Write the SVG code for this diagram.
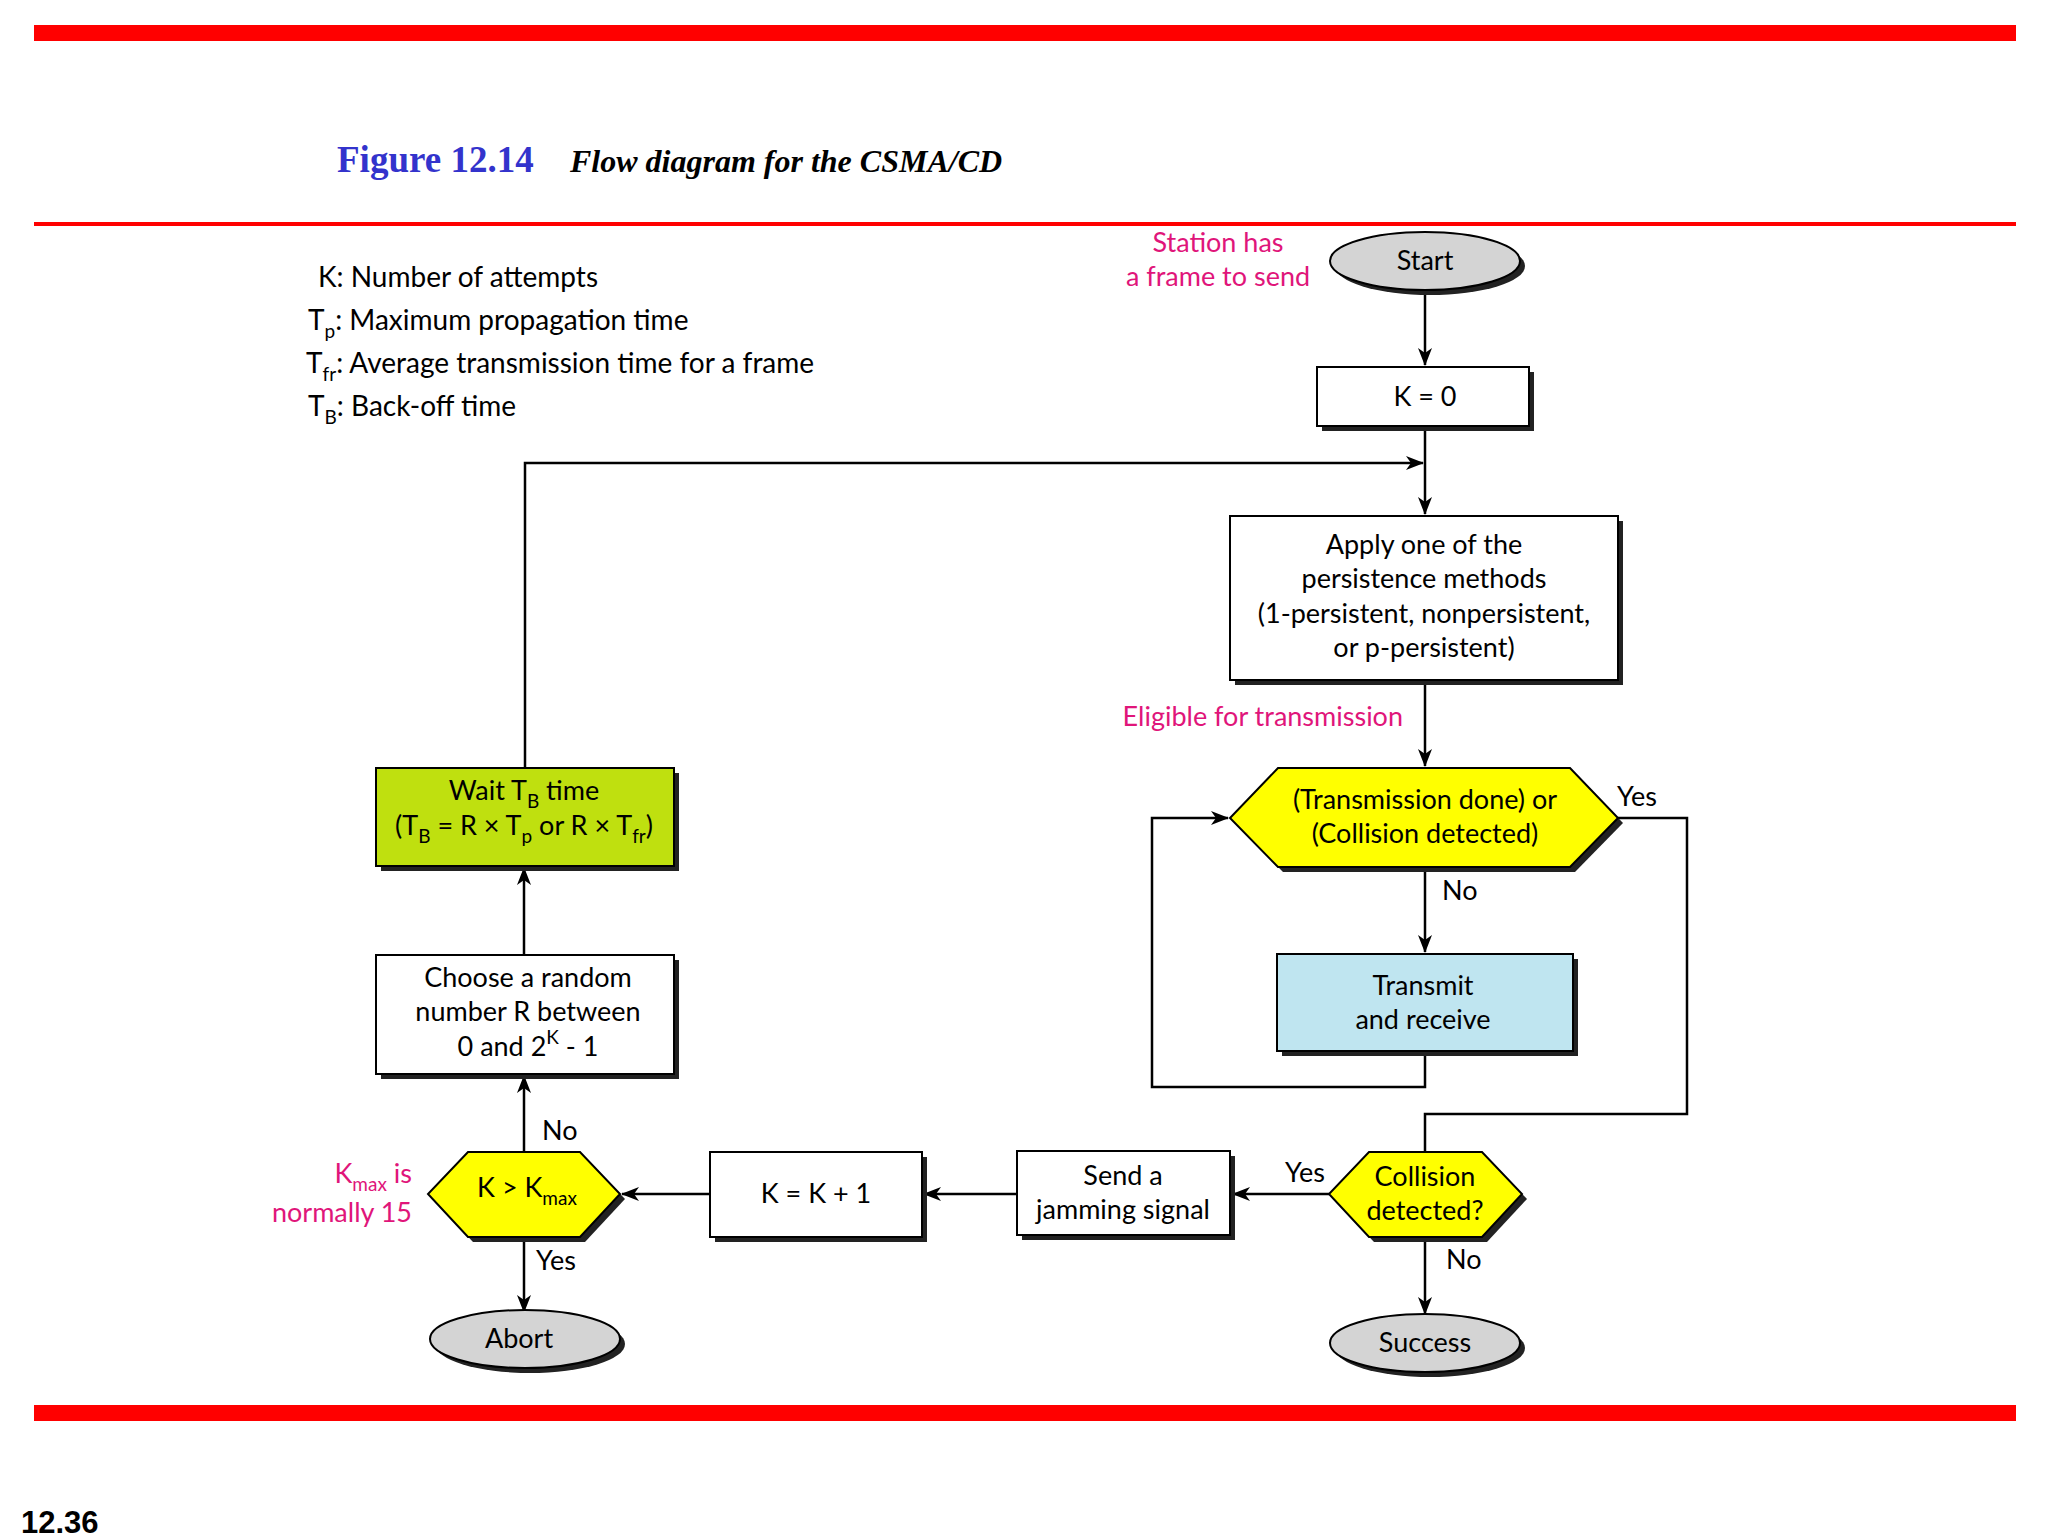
<svg xmlns="http://www.w3.org/2000/svg" width="2048" height="1536" viewBox="0 0 2048 1536">
<defs>
<marker id="ah" markerWidth="18" markerHeight="14" refX="17" refY="7" orient="auto" markerUnits="userSpaceOnUse">
<path d="M0,0 L18,7 L0,14 L5,7 Z" fill="#000"/>
</marker>
</defs>
<style>
text{font-family:Lato,"Open Sans",sans-serif;font-size:27px;fill:#000}
.c{text-anchor:middle}
.pk{fill:#e0157a}
.bx{stroke:#000;stroke-width:2}
.sh{fill:#222}
.ln{fill:none;stroke:#000;stroke-width:2.5}
.sub{font-size:19px}
.lg{font-size:28px}
</style>
<rect width="2048" height="1536" fill="#fff"/>
<rect x="34" y="25" width="1982" height="16" fill="#ff0000"/>
<rect x="34" y="222" width="1982" height="4" fill="#ff0000"/>
<rect x="34" y="1405" width="1982" height="16" fill="#ff0000"/>
<text x="337" y="172" style="font-family:'Liberation Serif',serif;font-size:37px;font-weight:bold;fill:#3333cc">Figure 12.14</text>
<text x="570" y="172" style="font-family:'Liberation Serif',serif;font-size:32px;font-weight:bold;font-style:italic">Flow diagram for the CSMA/CD</text>
<text x="21" y="1533" style="font-family:'Liberation Sans',sans-serif;font-size:31px;font-weight:bold">12.36</text>

<g id="legend">
<text class="lg" x="318" y="287">K: Number of attempts</text>
<text class="lg" x="308" y="330">T<tspan class="sub" dy="8">p</tspan><tspan dy="-8">: Maximum propagation time</tspan></text>
<text class="lg" x="306" y="373">T<tspan class="sub" dy="8">fr</tspan><tspan dy="-8">: Average transmission time for a frame</tspan></text>
<text class="lg" x="308" y="416">T<tspan class="sub" dy="8">B</tspan><tspan dy="-8">: Back-off time</tspan></text>
</g>

<g id="connectors">
<line class="ln" x1="1425" y1="290" x2="1425" y2="365" marker-end="url(#ah)"/>
<line class="ln" x1="1425" y1="426" x2="1425" y2="514" marker-end="url(#ah)"/>
<polyline class="ln" points="525,768 525,463 1423,463" marker-end="url(#ah)"/>
<line class="ln" x1="1425" y1="680" x2="1425" y2="766" marker-end="url(#ah)"/>
<line class="ln" x1="1425" y1="867" x2="1425" y2="952" marker-end="url(#ah)"/>
<polyline class="ln" points="1425,1051 1425,1087 1152,1087 1152,818 1228,818" marker-end="url(#ah)"/>
<polyline class="ln" points="1618,818 1687,818 1687,1114 1425,1114 1425,1152"/>
<line class="ln" x1="1329" y1="1194" x2="1233" y2="1194" marker-end="url(#ah)"/>
<line class="ln" x1="1425" y1="1237" x2="1425" y2="1314" marker-end="url(#ah)"/>
<line class="ln" x1="1017" y1="1194" x2="924" y2="1194" marker-end="url(#ah)"/>
<line class="ln" x1="710" y1="1194" x2="622" y2="1194" marker-end="url(#ah)"/>
<line class="ln" x1="524" y1="1152" x2="524" y2="1076" marker-end="url(#ah)"/>
<line class="ln" x1="524" y1="955" x2="524" y2="868" marker-end="url(#ah)"/>
<line class="ln" x1="524" y1="1237" x2="524" y2="1312" marker-end="url(#ah)"/>
</g>

<g id="labels">
<text class="c pk" x="1218" y="252">Station has</text>
<text class="c pk" x="1218" y="286">a frame to send</text>
<text class="pk" x="1403" y="726" text-anchor="end">Eligible for transmission</text>
<text x="1617" y="806">Yes</text>
<text x="1442" y="900">No</text>
<text x="1285" y="1182">Yes</text>
<text x="1446" y="1269">No</text>
<text x="542" y="1140">No</text>
<text x="536" y="1270">Yes</text>
<text class="pk" x="412" y="1183" text-anchor="end">K<tspan class="sub pk" dy="8">max</tspan><tspan dy="-8"> is</tspan></text>
<text class="pk" x="412" y="1222" text-anchor="end">normally 15</text>
</g>

<g id="start">
<ellipse cx="1430" cy="266" rx="95" ry="29" class="sh"/>
<ellipse cx="1425" cy="261" rx="95" ry="29" fill="#d4d4d4" class="bx"/>
<text class="c" x="1425" y="270">Start</text>
</g>
<g id="k0">
<rect x="1322" y="372" width="212" height="59" class="sh"/>
<rect x="1317" y="367" width="212" height="59" fill="#fff" class="bx"/>
<text class="c" x="1425" y="406">K = 0</text>
</g>
<g id="apply">
<rect x="1235" y="521" width="388" height="164" class="sh"/>
<rect x="1230" y="516" width="388" height="164" fill="#fff" class="bx"/>
<text class="c" x="1424" y="554">Apply one of the</text>
<text class="c" x="1424" y="588">persistence methods</text>
<text class="c" x="1424" y="623">(1-persistent, nonpersistent,</text>
<text class="c" x="1424" y="657">or p-persistent)</text>
</g>
<g id="txdone">
<polygon points="1283,773 1575,773 1623,823 1575,872 1283,872 1235,823" class="sh"/>
<polygon points="1278,768 1570,768 1618,818 1570,867 1278,867 1230,818" fill="#ffff00" class="bx"/>
<text class="c" x="1425" y="809">(Transmission done) or</text>
<text class="c" x="1425" y="843">(Collision detected)</text>
</g>
<g id="transmit">
<rect x="1282" y="959" width="296" height="97" class="sh"/>
<rect x="1277" y="954" width="296" height="97" fill="#bfe5f0" class="bx"/>
<text class="c" x="1423" y="995">Transmit</text>
<text class="c" x="1423" y="1029">and receive</text>
</g>
<g id="collision">
<polygon points="1374,1157 1487,1157 1527,1199 1487,1242 1374,1242 1334,1199" class="sh"/>
<polygon points="1369,1152 1482,1152 1522,1194 1482,1237 1369,1237 1329,1194" fill="#ffff00" class="bx"/>
<text class="c" x="1425" y="1186">Collision</text>
<text class="c" x="1425" y="1220">detected?</text>
</g>
<g id="success">
<ellipse cx="1430" cy="1348" rx="95" ry="29" class="sh"/>
<ellipse cx="1425" cy="1343" rx="95" ry="29" fill="#d4d4d4" class="bx"/>
<text class="c" x="1425" y="1352">Success</text>
</g>
<g id="jam">
<rect x="1022" y="1156" width="213" height="84" class="sh"/>
<rect x="1017" y="1151" width="213" height="84" fill="#fff" class="bx"/>
<text class="c" x="1123" y="1185">Send a</text>
<text class="c" x="1123" y="1219">jamming signal</text>
</g>
<g id="kinc">
<rect x="715" y="1157" width="212" height="85" class="sh"/>
<rect x="710" y="1152" width="212" height="85" fill="#fff" class="bx"/>
<text class="c" x="816" y="1203">K = K + 1</text>
</g>
<g id="kmax">
<polygon points="473,1157 585,1157 625,1199 585,1242 473,1242 433,1199" class="sh"/>
<polygon points="468,1152 580,1152 620,1194 580,1237 468,1237 428,1194" fill="#ffff00" class="bx"/>
<text class="c" x="527" y="1197">K &gt; K<tspan class="sub" dy="8">max</tspan></text>
</g>
<g id="abort">
<ellipse cx="530" cy="1344" rx="95" ry="29" class="sh"/>
<ellipse cx="525" cy="1339" rx="95" ry="29" fill="#d4d4d4" class="bx"/>
<text class="c" x="519" y="1348">Abort</text>
</g>
<g id="choose">
<rect x="381" y="960" width="298" height="119" class="sh"/>
<rect x="376" y="955" width="298" height="119" fill="#fff" class="bx"/>
<text class="c" x="528" y="987">Choose a random</text>
<text class="c" x="528" y="1021">number R between</text>
<text class="c" x="528" y="1056">0 and 2<tspan class="sub" dy="-12">K</tspan><tspan dy="12"> - 1</tspan></text>
</g>
<g id="wait">
<rect x="381" y="773" width="298" height="98" class="sh"/>
<rect x="376" y="768" width="298" height="98" fill="#bfe00f" class="bx"/>
<text class="c" x="524" y="800">Wait T<tspan class="sub" dy="8">B</tspan><tspan dy="-8"> time</tspan></text>
<text class="c" x="524" y="835">(T<tspan class="sub" dy="8">B</tspan><tspan dy="-8"> = R × T</tspan><tspan class="sub" dy="8">p</tspan><tspan dy="-8"> or R × T</tspan><tspan class="sub" dy="8">fr</tspan><tspan dy="-8">)</tspan></text>
</g>
</svg>
